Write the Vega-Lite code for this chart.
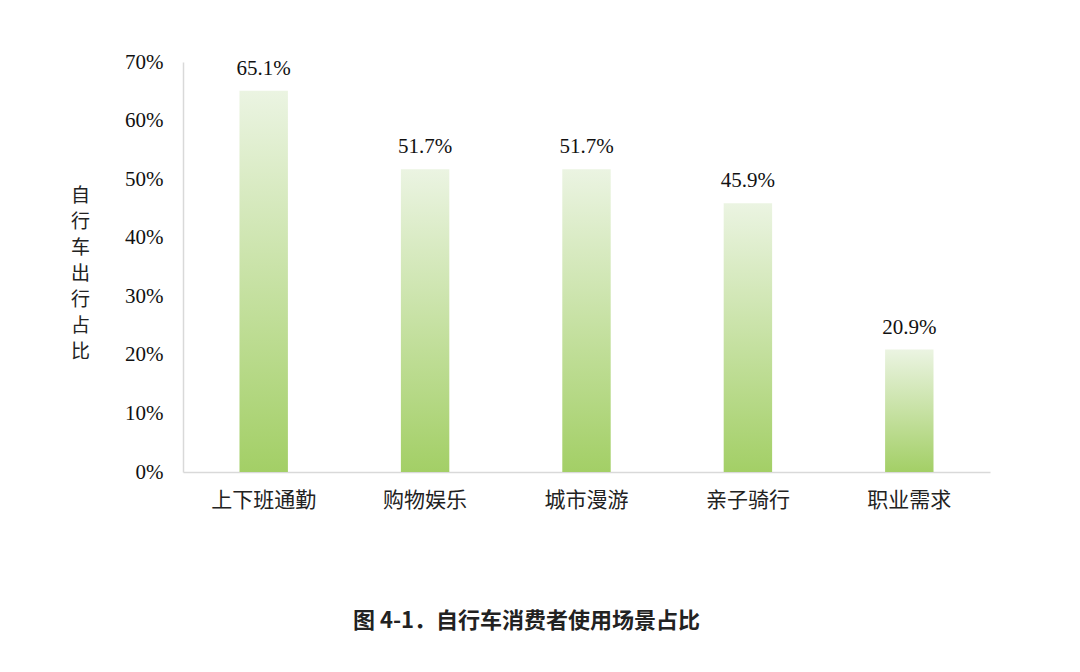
{
  "$schema": "https://vega.github.io/schema/vega-lite/v6.json",
  "autosize": {"type": "none"},
  "padding": {"left": 183, "top": 62, "right": 90, "bottom": 200},
  "width": 807,
  "height": 410,
  "background": "white",
  "data": {"values": [
    {"scene": "上下班通勤", "share": 65.1},
    {"scene": "购物娱乐", "share": 51.7},
    {"scene": "城市漫游", "share": 51.7},
    {"scene": "亲子骑行", "share": 45.9},
    {"scene": "职业需求", "share": 20.9}
  ]},
  "title": {
    "text": "图 4-1．自行车消费者使用场景占比",
    "orient": "bottom",
    "anchor": "middle",
    "frame": "group",
    "dx": -60,
    "offset": 101,
    "font": "Noto Sans CJK SC",
    "fontSize": 22,
    "fontWeight": "bold",
    "color": "#222222"
  },
  "config": {"view": {"stroke": null}},
  "encoding": {
    "x": {
      "field": "scene", "type": "nominal", "sort": null,
      "scale": {"paddingInner": 0.7, "paddingOuter": 0.35},
      "axis": {
        "title": null, "labelAngle": 0, "ticks": false, "domainColor": "#d9d9d9", "domainWidth": 1.5,
        "labelFont": "Noto Sans CJK SC", "labelFontSize": 21, "labelColor": "#222222", "labelPadding": 17
      }
    },
    "y": {
      "field": "share", "type": "quantitative",
      "scale": {"domain": [0, 70]},
      "axis": {
        "values": [0, 10, 20, 30, 40, 50, 60, 70],
        "labelExpr": "datum.value + '%'",
        "grid": false, "ticks": false, "domainColor": "#d9d9d9", "domainWidth": 1.5,
        "labelFont": "Liberation Serif", "labelFontSize": 21, "labelColor": "#111111", "labelPadding": 20,
        "title": ["自", "行", "车", "出", "行", "占", "比"],
        "titleAngle": 0, "titleX": -103, "titleY": 124, "titleAlign": "center", "titleBaseline": "top",
        "titleFont": "Noto Sans CJK SC", "titleFontSize": 19, "titleFontWeight": "normal",
        "titleLineHeight": 26, "titleColor": "#222222"
      }
    }
  },
  "layer": [
    {
      "mark": {
        "type": "bar",
        "fill": {
          "gradient": "linear", "x1": 0, "y1": 0, "x2": 0, "y2": 1,
          "stops": [{"offset": 0, "color": "#ebf4e2"}, {"offset": 1, "color": "#a3cf66"}]
        }
      }
    },
    {
      "mark": {
        "type": "text", "baseline": "bottom", "dy": -12, "font": "Liberation Serif", "fontSize": 21, "color": "#111111",
        "text": {"expr": "format(datum.share, '.1f') + '%'"}
      }
    }
  ]
}
